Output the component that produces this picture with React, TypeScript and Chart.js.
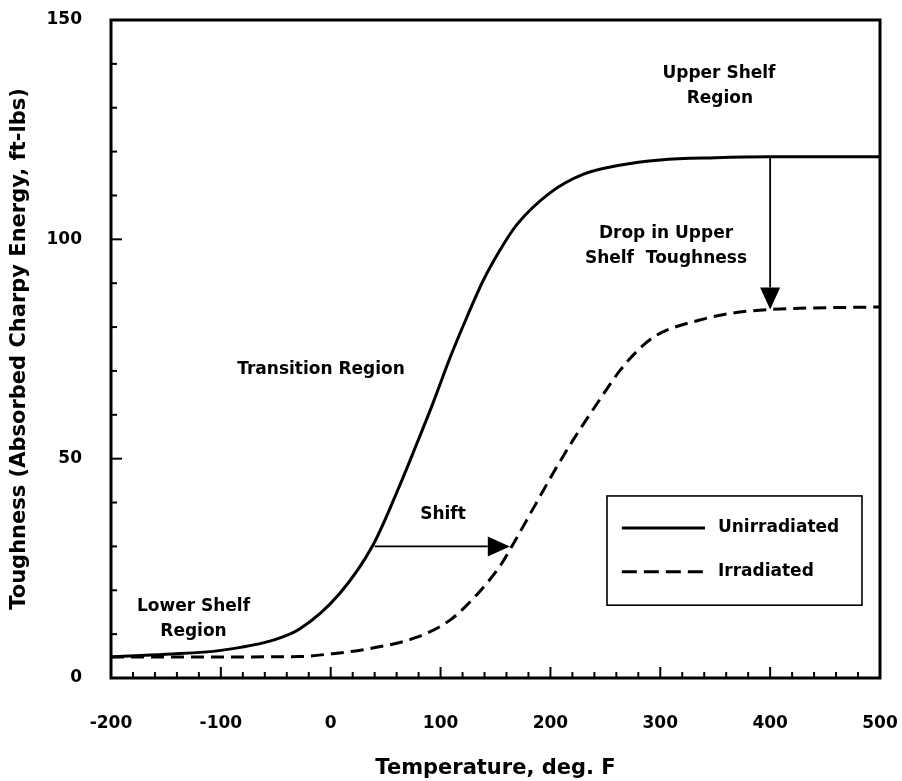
import React, { useEffect, useRef } from "react";
import { Chart, registerables } from "chart.js";

Chart.register(...registerables);

// ---- Data ----
const unirrTemps = [-200, -150, -100, -50, -28, 8, 38.5, 63, 78.5, 93, 108.6, 124, 138.6, 154, 169.6, 199.6, 229.6, 263, 300, 350, 400, 500];
const unirrValues = [4.8, 5.4, 6.3, 8.8, 11.2, 19.2, 30.3, 44, 53.5, 62.6, 73, 82.3, 90.5, 97.5, 103.4, 110.6, 114.8, 116.9, 118.1, 118.6, 118.8, 118.8];

const irrTemps = [-200, -100, -28, 0, 33, 78.5, 108.6, 133, 154, 166, 184, 202, 220, 245, 263, 280, 297, 336, 366, 400, 500];
const irrValues = [4.8, 4.8, 4.9, 5.5, 6.6, 9.3, 13.2, 19, 25.5, 30.5, 38.5, 46.5, 54, 63.5, 70, 74.8, 78.2, 81.6, 83.2, 84, 84.6];

const seriesNames = ["Unirradiated", "Irradiated"];
const xTickValues = [-200, -100, 0, 100, 200, 300, 400, 500];
const yTickValues = [0, 50, 100, 150];
const xTitle = "Temperature, deg. F";
const yTitle = "Toughness (Absorbed Charpy Energy, ft-lbs)";

// annotation texts anchored in data coordinates
const noteTexts = ["Upper Shelf", "Region", "Drop in Upper", "Shelf  Toughness", "Transition Region", "Shift", "Lower Shelf", "Region"];
const noteX = [353.4, 354.3, 305.2, 305.2, -8.8, 102.2, -124.9, -124.9];
const noteY = [137.9, 132.2, 101.4, 95.7, 70.2, 37.2, 16.2, 10.5];

// arrows (data coordinates): [x0, y0, x1, y1]
const shiftArrow = [40, 30, 163, 30];
const dropArrow = [400, 118.8, 400, 84];

// legend box in data coordinates
const legendBox = { x0: 251.5, x1: 483.6, yTop: 41.5, yBottom: 16.6 };
const legendLineX = [265, 340.7];
const legendTextX = 352.5;
const legendRowY = [34.2, 24.2];

const FONT = "'DejaVu Sans'";

function drawArrow(ctx: CanvasRenderingContext2D, x0: number, y0: number, x1: number, y1: number) {
  const ang = Math.atan2(y1 - y0, x1 - x0);
  const headLen = 22;
  const headHalf = 10;
  const bx = x1 - headLen * Math.cos(ang);
  const by = y1 - headLen * Math.sin(ang);
  ctx.save();
  ctx.strokeStyle = "#000";
  ctx.fillStyle = "#000";
  ctx.lineWidth = 1.8;
  ctx.beginPath();
  ctx.moveTo(x0, y0);
  ctx.lineTo(bx, by);
  ctx.stroke();
  ctx.beginPath();
  ctx.moveTo(x1, y1);
  ctx.lineTo(bx + headHalf * Math.sin(ang), by - headHalf * Math.cos(ang));
  ctx.lineTo(bx - headHalf * Math.sin(ang), by + headHalf * Math.cos(ang));
  ctx.closePath();
  ctx.fill();
  ctx.restore();
}

const decorPlugin = {
  id: "decor",
  afterDatasetsDraw(chart: any) {
    const ctx: CanvasRenderingContext2D = chart.ctx;
    const xs = chart.scales.x;
    const ys = chart.scales.y;
    const a = chart.chartArea;
    ctx.save();
    // frame
    ctx.strokeStyle = "#000";
    ctx.lineWidth = 3;
    ctx.strokeRect(a.left, a.top, a.right - a.left, a.bottom - a.top);
    // inner ticks
    ctx.lineWidth = 2;
    for (let v = -200; v <= 500; v += 20) {
      const px = xs.getPixelForValue(v);
      const len = v % 100 === 0 ? 11 : 6;
      ctx.beginPath();
      ctx.moveTo(px, a.bottom);
      ctx.lineTo(px, a.bottom - len);
      ctx.stroke();
    }
    for (let v = 0; v <= 150; v += 10) {
      const py = ys.getPixelForValue(v);
      const len = v % 50 === 0 ? 11 : 6;
      ctx.beginPath();
      ctx.moveTo(a.left, py);
      ctx.lineTo(a.left + len, py);
      ctx.stroke();
    }
    // annotation texts
    ctx.fillStyle = "#000";
    ctx.font = `bold 17px ${FONT}`;
    ctx.textAlign = "center";
    ctx.textBaseline = "middle";
    noteTexts.forEach((t, i) => {
      ctx.fillText(t, xs.getPixelForValue(noteX[i]), ys.getPixelForValue(noteY[i]));
    });
    // arrows
    drawArrow(ctx, xs.getPixelForValue(shiftArrow[0]), ys.getPixelForValue(shiftArrow[1]), xs.getPixelForValue(shiftArrow[2]), ys.getPixelForValue(shiftArrow[3]));
    drawArrow(ctx, xs.getPixelForValue(dropArrow[0]), ys.getPixelForValue(dropArrow[1]), xs.getPixelForValue(dropArrow[2]), ys.getPixelForValue(dropArrow[3]));
    // legend
    const lx0 = xs.getPixelForValue(legendBox.x0);
    const lx1 = xs.getPixelForValue(legendBox.x1);
    const ly0 = ys.getPixelForValue(legendBox.yTop);
    const ly1 = ys.getPixelForValue(legendBox.yBottom);
    ctx.fillStyle = "#fff";
    ctx.fillRect(lx0, ly0, lx1 - lx0, ly1 - ly0);
    ctx.strokeStyle = "#000";
    ctx.lineWidth = 1.6;
    ctx.strokeRect(lx0, ly0, lx1 - lx0, ly1 - ly0);
    seriesNames.forEach((name, i) => {
      const py = ys.getPixelForValue(legendRowY[i]);
      ctx.beginPath();
      ctx.lineWidth = 3;
      ctx.setLineDash(i === 0 ? [] : [15, 7]);
      ctx.moveTo(xs.getPixelForValue(legendLineX[0]), py);
      ctx.lineTo(xs.getPixelForValue(legendLineX[1]), py);
      ctx.stroke();
      ctx.setLineDash([]);
      ctx.fillStyle = "#000";
      ctx.font = `bold 17px ${FONT}`;
      ctx.textAlign = "left";
      ctx.textBaseline = "middle";
      ctx.fillText(name, xs.getPixelForValue(legendTextX), py);
    });
    ctx.restore();
  },
};

export default function App() {
  const ref = useRef<HTMLCanvasElement | null>(null);
  useEffect(() => {
    if (!ref.current) return;
    const chart = new Chart(ref.current, {
      type: "line",
      data: {
        datasets: [
          {
            label: seriesNames[0],
            data: unirrTemps.map((t, i) => ({ x: t, y: unirrValues[i] })),
            borderColor: "#000",
            borderWidth: 3,
            pointRadius: 0,
            cubicInterpolationMode: "monotone",
            fill: false,
          },
          {
            label: seriesNames[1],
            data: irrTemps.map((t, i) => ({ x: t, y: irrValues[i] })),
            borderColor: "#000",
            borderWidth: 3,
            borderDash: [13, 7],
            pointRadius: 0,
            cubicInterpolationMode: "monotone",
            fill: false,
          },
        ],
      },
      options: {
        animation: false,
        responsive: true,
        maintainAspectRatio: false,
        layout: { padding: { top: 20, right: 22, left: 0, bottom: 0 } },
        plugins: { legend: { display: false }, tooltip: { enabled: false } },
        scales: {
          x: {
            type: "linear",
            min: -200,
            max: 500,
            afterBuildTicks: (s: any) => {
              s.ticks = xTickValues.map((v) => ({ value: v }));
            },
            afterFit: (s: any) => {
              s.height = 103;
              s.paddingLeft = 0;
              s.paddingRight = 0;
            },
            grid: { display: false, drawTicks: false },
            border: { display: false },
            ticks: {
              color: "#000",
              padding: 35,
              maxRotation: 0,
              autoSkip: false,
              font: { family: FONT, size: 17, weight: "bold" },
              callback: (v: any) => String(v),
            },
            title: {
              display: true,
              text: xTitle,
              color: "#000",
              padding: 0,
              font: { family: FONT, size: 21, weight: "bold" },
            },
          },
          y: {
            type: "linear",
            min: 0,
            max: 150,
            afterBuildTicks: (s: any) => {
              s.ticks = yTickValues.map((v) => ({ value: v }));
            },
            afterFit: (s: any) => {
              s.width = 111;
              s.paddingTop = 0;
              s.paddingBottom = 0;
            },
            grid: { display: false, drawTicks: false },
            border: { display: false },
            ticks: {
              color: "#000",
              padding: 29,
              autoSkip: false,
              font: { family: FONT, size: 17, weight: "bold" },
              callback: (v: any) => String(v),
            },
            title: {
              display: true,
              text: yTitle,
              color: "#000",
              padding: { top: 7, bottom: 0 },
              font: { family: FONT, size: 21, weight: "bold" },
            },
          },
        },
      } as any,
      plugins: [decorPlugin],
    });
    return () => chart.destroy();
  }, []);
  return (
    <div style={{ position: "fixed", left: 0, top: 0, width: 902, height: 781, background: "#fff" }}>
      <canvas ref={ref} />
    </div>
  );
}
